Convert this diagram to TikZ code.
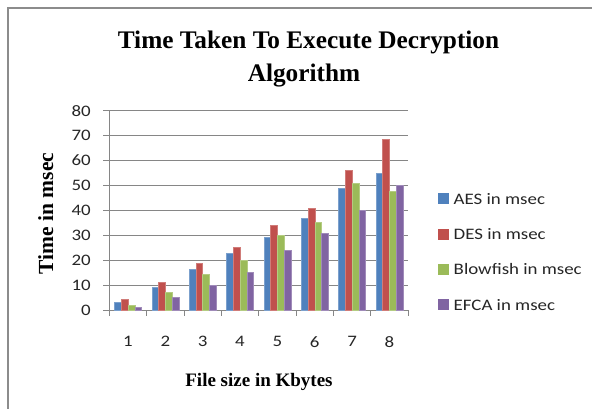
\documentclass[tikz,border=0pt]{standalone}
\usepackage{fontspec}
\setmainfont{Liberation Serif}
\newfontfamily\calibri{Carlito}
\definecolor{aescol}{HTML}{4F81BD}
\definecolor{descol}{HTML}{C0504D}
\definecolor{bfcol}{HTML}{9BBB59}
\definecolor{efcacol}{HTML}{8064A2}
\definecolor{gridcol}{HTML}{868686}
\definecolor{framecol}{HTML}{8C8C8C}
\tikzset{
  gridline/.style={draw=gridcol, line width=1pt},
  axisline/.style={draw=gridcol, line width=1pt},
  ticklabel/.style={font=\calibri\fontsize{16}{16}\selectfont, text=black!85, inner sep=0pt, xscale=1.18},
  legendtext/.style={font=\calibri\fontsize{16}{16}\selectfont, text=black!85, inner sep=0pt, anchor=base west, xscale=1.18},
  axistitle/.style={font=\bfseries\fontsize{19}{19}\selectfont, inner sep=0pt, anchor=base},
  titletext/.style={font=\bfseries\fontsize{25.3}{25.3}\selectfont, inner sep=0pt, anchor=base},
  bar/.style={fill=#1, draw=#1!75!white, line width=0.4pt},
}
\begin{document}
\begin{tikzpicture}[x=1pt,y=-1pt]
\useasboundingbox (0,0) rectangle (592,409);
\fill[white] (0,0) rectangle (592,409);
% chart frame (left and top edges)
\draw[framecol, line width=2pt] (8,409) -- (8,8) -- (592,8);

% horizontal gridlines with outside ticks and value labels
\foreach \v in {0,10,...,80} {
  \draw[gridline] (103,{310.3-2.495*\v}) -- (408,{310.3-2.495*\v});
  \node[ticklabel, anchor=east] (yl\v) at (91,{310.3-2.495*\v}) {\v};
}
% value axis
\draw[axisline] (109.3,110.7) -- (109.3,310.3);
% category tick marks
\foreach \i in {0,...,8}
  \draw[axisline] ({109.3+37.35*\i},310.3) -- ++(0,6);

% bars: AES / DES / Blowfish / EFCA
\foreach \a/\d/\b/\e [count=\i from 0] in
  {3.3/4.4/2.1/1.3, 9.2/11.2/7.1/5.1, 16.3/18.9/14.4/10.1, 22.8/25.2/19.9/15.2,
   29.1/34.0/30.1/24.0, 37.1/40.9/35.2/30.9, 49.1/56.0/50.9/40.0, 54.8/68.7/47.9/50.0} {
  \pgfmathsetmacro\xs{109.3+37.35*\i+5.09}
  \path[bar=aescol]  (\xs,310.3) rectangle ({\xs+6.79},{310.3-2.495*\a});
  \path[bar=descol]  ({\xs+6.79},310.3) rectangle ({\xs+13.58},{310.3-2.495*\d});
  \path[bar=bfcol]   ({\xs+13.58},310.3) rectangle ({\xs+20.37},{310.3-2.495*\b});
  \path[bar=efcacol] ({\xs+20.37},310.3) rectangle ({\xs+27.16},{310.3-2.495*\e});
  \pgfmathtruncatemacro\n{\i+1}
  \node[ticklabel] (xl\n) at ({109.3+37.35*\i+18.67},341.7) {\n};
}

% titles
\node[titletext] (title1) at (308.5,48.3) {Time Taken To Execute Decryption};
\node[titletext] (title2) at (304,81.7) {Algorithm};
\node[axistitle, rotate=90, font=\bfseries\fontsize{21.5}{21.5}\selectfont] (ytitle) at (53,213.5) {Time in msec};
\node[axistitle] (xtitle) at (259,386) {File size in Kbytes};

% legend
\foreach \c/\t [count=\k from 0] in {aescol/AES in msec, descol/DES in msec,
    bfcol/Blowfish in msec, efcacol/EFCA in msec} {
  \fill[\c] (438.3,{193.3+35.3*\k}) rectangle ++(11,11);
  \node[legendtext] (leg\k) at (453.5,{204.3+35.3*\k}) {\t};
}
\end{tikzpicture}
\end{document}
